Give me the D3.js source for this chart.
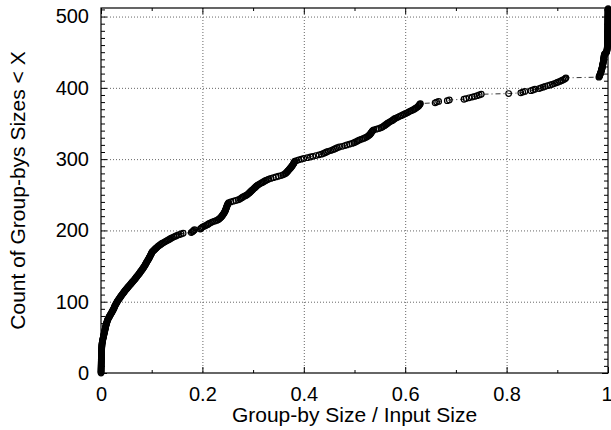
<!DOCTYPE html>
<html>
<head>
<meta charset="utf-8">
<title>groupby sizes</title>
<script src="https://cdn.jsdelivr.net/npm/d3@7"></script>
<style>
  body { margin: 0; background: #fff; }
  text { font-family: "Liberation Sans", Arial, Helvetica, sans-serif; }
</style>
</head>
<body>
<script>
// sorted group-by sizes as a fraction of input size (one entry per group-by)
var sizes = [
  0, 0, 0.0001, 0.0001, 0.0001, 0.0002, 0.0002, 0.0002, 0.0003, 0.0003,
  0.0003, 0.0004, 0.0004, 0.0004, 0.0005, 0.0005, 0.0005, 0.0006, 0.0006, 0.0006,
  0.0007, 0.0007, 0.0008, 0.0008, 0.0008, 0.0009, 0.0009, 0.0010, 0.0010, 0.0011,
  0.0011, 0.0012, 0.0012, 0.0013, 0.0014, 0.0014, 0.0015, 0.0016, 0.0017, 0.0018,
  0.0019, 0.0021, 0.0023, 0.0025, 0.0027, 0.0030, 0.0033, 0.0036, 0.0039, 0.0042,
  0.0045, 0.0048, 0.0051, 0.0055, 0.0058, 0.0061, 0.0064, 0.0068, 0.0071, 0.0074,
  0.0077, 0.0080, 0.0083, 0.0086, 0.0089, 0.0092, 0.0095, 0.0099, 0.0103, 0.0107,
  0.0111, 0.0115, 0.0119, 0.0124, 0.0129, 0.0135, 0.0141, 0.0148, 0.0156, 0.0164,
  0.0172, 0.0180, 0.0188, 0.0196, 0.0204, 0.0212, 0.0220, 0.0228, 0.0236, 0.0243,
  0.0250, 0.0256, 0.0262, 0.0268, 0.0274, 0.0281, 0.0288, 0.0296, 0.0304, 0.0312,
  0.0320, 0.0329, 0.0338, 0.0347, 0.0357, 0.0367, 0.0377, 0.0387, 0.0397, 0.0407,
  0.0417, 0.0427, 0.0438, 0.0449, 0.0460, 0.0470, 0.0480, 0.0492, 0.0504, 0.0516,
  0.0528, 0.0540, 0.0552, 0.0564, 0.0576, 0.0588, 0.0600, 0.0612, 0.0624, 0.0637,
  0.0650, 0.0661, 0.0672, 0.0683, 0.0694, 0.0705, 0.0716, 0.0727, 0.0738, 0.0749,
  0.0760, 0.0770, 0.0780, 0.0790, 0.0800, 0.0810, 0.0820, 0.0830, 0.0840, 0.0850,
  0.0858, 0.0866, 0.0874, 0.0882, 0.0890, 0.0898, 0.0906, 0.0914, 0.0922, 0.0930,
  0.0940, 0.0948, 0.0955, 0.0962, 0.0969, 0.0976, 0.0983, 0.0990, 0.0997, 0.1004,
  0.1012, 0.1025, 0.1040, 0.1055, 0.1070, 0.1085, 0.1100, 0.1115, 0.1130, 0.1150,
  0.1170, 0.1190, 0.1210, 0.1235, 0.1260, 0.1285, 0.1310, 0.1335, 0.1360, 0.1385,
  0.1410, 0.1440, 0.1470, 0.1500, 0.1540, 0.1580, 0.1620, 0.1780, 0.1800, 0.1815,
  0.1830, 0.1845, 0.1960, 0.1975, 0.1990, 0.2010, 0.2040, 0.2070, 0.2100, 0.2120,
  0.2140, 0.2170, 0.2200, 0.2240, 0.2280, 0.2310, 0.2330, 0.2345, 0.2360, 0.2372,
  0.2384, 0.2395, 0.2405, 0.2415, 0.2424, 0.2432, 0.2440, 0.2447, 0.2453, 0.2459,
  0.2464, 0.2469, 0.2474, 0.2479, 0.2484, 0.2489, 0.2495, 0.2502, 0.2510, 0.2520,
  0.2560, 0.2610, 0.2660, 0.2710, 0.2740, 0.2760, 0.2780, 0.2800, 0.2830, 0.2860,
  0.2880, 0.2900, 0.2915, 0.2930, 0.2945, 0.2960, 0.2975, 0.2990, 0.3005, 0.3020,
  0.3035, 0.3050, 0.3065, 0.3080, 0.3100, 0.3125, 0.3150, 0.3175, 0.3200, 0.3225,
  0.3250, 0.3280, 0.3310, 0.3350, 0.3400, 0.3450, 0.3500, 0.3550, 0.3590, 0.3620,
  0.3640, 0.3655, 0.3670, 0.3682, 0.3694, 0.3706, 0.3718, 0.3730, 0.3742, 0.3755,
  0.3765, 0.3775, 0.3785, 0.3793, 0.3800, 0.3808, 0.3816, 0.3825, 0.3860, 0.3900,
  0.3950, 0.4000, 0.4070, 0.4130, 0.4180, 0.4240, 0.4300, 0.4350, 0.4390, 0.4420,
  0.4450, 0.4480, 0.4530, 0.4570, 0.4600, 0.4630, 0.4660, 0.4700, 0.4760, 0.4810,
  0.4850, 0.4900, 0.4950, 0.4990, 0.5020, 0.5050, 0.5070, 0.5100, 0.5140, 0.5180,
  0.5210, 0.5240, 0.5260, 0.5280, 0.5295, 0.5310, 0.5320, 0.5330, 0.5340, 0.5350,
  0.5360, 0.5380, 0.5430, 0.5480, 0.5520, 0.5550, 0.5570, 0.5590, 0.5610, 0.5630,
  0.5650, 0.5665, 0.5690, 0.5715, 0.5740, 0.5760, 0.5780, 0.5800, 0.5830, 0.5860,
  0.5890, 0.5920, 0.5950, 0.5980, 0.6010, 0.6040, 0.6065, 0.6090, 0.6120, 0.6150,
  0.6180, 0.6200, 0.6220, 0.6240, 0.6255, 0.6270, 0.6280, 0.6290, 0.6300, 0.6590,
  0.6620, 0.6660, 0.6830, 0.6870, 0.7160, 0.7200, 0.7260, 0.7320, 0.7370, 0.7420,
  0.7460, 0.7500, 0.8040, 0.8280, 0.8320, 0.8360, 0.8480, 0.8520, 0.8560, 0.8640,
  0.8680, 0.8720, 0.8760, 0.8810, 0.8860, 0.8900, 0.8940, 0.8980, 0.9010, 0.9050,
  0.9080, 0.9110, 0.9140, 0.9160, 0.9170, 0.9820, 0.9830, 0.9835, 0.9840, 0.9845,
  0.9850, 0.9855, 0.9860, 0.9864, 0.9868, 0.9872, 0.9876, 0.9880, 0.9883, 0.9886,
  0.9889, 0.9892, 0.9895, 0.9898, 0.9900, 0.9903, 0.9906, 0.9908, 0.9910, 0.9912,
  0.9914, 0.9916, 0.9918, 0.9920, 0.9922, 0.9924, 0.9926, 0.9930, 0.9940, 0.9960,
  0.9970, 0.9975, 0.9978, 0.9980, 0.9982, 0.9984, 0.9985, 0.9986, 0.9987, 0.9988,
  0.9988, 0.9989, 0.9989, 0.9990, 0.9990, 0.9990, 0.9991, 0.9991, 0.9991, 0.9992,
  0.9992, 0.9992, 0.9993, 0.9993, 0.9993, 0.9993, 0.9994, 0.9994, 0.9994, 0.9994,
  0.9995, 0.9995, 0.9995, 0.9995, 0.9996, 0.9996, 0.9996, 0.9996, 0.9997, 0.9997,
  0.9997, 0.9997, 0.9997, 0.9998, 0.9998, 0.9998, 0.9998, 0.9998, 0.9999, 0.9999,
  0.9999, 0.9999, 0.9999, 1.0000, 1.0000, 1.0000, 1.0000, 1.0000, 1.0000, 1.0000,
  1.0000, 1.0000
];

var xTicks = [0, 0.2, 0.4, 0.6, 0.8, 1];
var xTickLabels = ["0", "0.2", "0.4", "0.6", "0.8", "1"];
var yTicks = [0, 100, 200, 300, 400, 500];
var yMax = 512;

var W = 611, H = 430;
var margin = {top: 8, right: 3, bottom: 57, left: 101},
    width = W - margin.left - margin.right,
    height = H - margin.top - margin.bottom;

var x = d3.scaleLinear().domain([0, 1]).range([0, width]);
var y = d3.scaleLinear().domain([0, yMax]).range([height, 0]);

var svg = d3.select("body").append("svg")
    .attr("width", W)
    .attr("height", H);
var g = svg.append("g")
    .attr("transform", "translate(" + margin.left + "," + margin.top + ")");

// grid
var gridStyle = function(sel) {
  sel.select(".domain").remove();
  sel.selectAll("line").attr("stroke", "#666").attr("stroke-width", 1)
     .attr("stroke-dasharray", "1,2");
};
g.append("g")
  .call(d3.axisBottom(x).tickValues(xTicks.slice(1, -1)).tickSize(height).tickFormat(""))
  .call(gridStyle);
g.append("g")
  .call(d3.axisLeft(y).tickValues(yTicks.slice(1)).tickSize(-width).tickFormat(""))
  .call(gridStyle);

// minor ticks (inside, all four sides)
var xMinor = d3.range(0.1, 1, 0.2);
var yMinor = d3.range(10, yMax, 10).filter(function(v) { return v % 100 !== 0; });
var tickStyle = function(sel) {
  sel.select(".domain").remove();
  sel.selectAll("line").attr("stroke", "#000").attr("stroke-width", 1);
  sel.selectAll("text").remove();
};
g.append("g").attr("transform", "translate(0," + height + ")")
  .call(d3.axisBottom(x).tickValues(xMinor).tickSize(-3)).call(tickStyle);
g.append("g")
  .call(d3.axisTop(x).tickValues(xMinor).tickSize(-3)).call(tickStyle);
g.append("g")
  .call(d3.axisLeft(y).tickValues(yMinor).tickSize(-4)).call(tickStyle);
g.append("g").attr("transform", "translate(" + width + ",0)")
  .call(d3.axisRight(y).tickValues(yMinor).tickSize(-4)).call(tickStyle);
g.append("g")
  .call(d3.axisTop(x).tickValues(xTicks).tickSize(-6)).call(tickStyle);
g.append("g").attr("transform", "translate(" + width + ",0)")
  .call(d3.axisRight(y).tickValues(yTicks).tickSize(-6)).call(tickStyle);

// major axes with labels
var xAxis = g.append("g").attr("transform", "translate(0," + height + ")")
  .call(d3.axisBottom(x).tickValues(xTicks).tickSize(-6).tickPadding(14)
        .tickFormat(function(d, i) { return xTickLabels[i]; }));
var yAxis = g.append("g")
  .call(d3.axisLeft(y).tickValues(yTicks).tickSize(-6).tickPadding(12));
[xAxis, yAxis].forEach(function(a) {
  a.select(".domain").remove();
  a.selectAll("line").attr("stroke", "#000");
  a.selectAll("text").attr("font-size", 20).attr("fill", "#000")
    .style("font-family", "'Liberation Sans', Arial, sans-serif");
});
// keep the last x label inside the window
xAxis.selectAll("text").filter(function(d) { return d === 1; })
  .attr("text-anchor", "end").attr("x", 4);

// frame
g.append("rect")
  .attr("width", width).attr("height", height)
  .attr("fill", "none").attr("stroke", "#000").attr("stroke-width", 1.2);

// dash-dot connecting line
var line = d3.line()
  .x(function(d) { return x(d); })
  .y(function(d, i) { return y(i); });
g.append("path")
  .datum(sizes)
  .attr("d", line)
  .attr("fill", "none")
  .attr("stroke", "#000")
  .attr("stroke-width", 0.8)
  .attr("stroke-dasharray", "5,3,1,3");

// open circle points
g.selectAll(".pt")
  .data(sizes)
  .enter().append("circle")
  .attr("class", "pt")
  .attr("cx", function(d) { return x(d); })
  .attr("cy", function(d, i) { return y(i); })
  .attr("r", 2.8)
  .attr("fill", "none")
  .attr("stroke", "#000")
  .attr("stroke-width", 1.2);

// axis titles
svg.append("text")
  .attr("x", margin.left + width / 2)
  .attr("y", 422)
  .attr("text-anchor", "middle")
  .attr("font-size", 21)
  .text("Group-by Size / Input Size");
svg.append("text")
  .attr("transform", "translate(25," + (margin.top + height / 2) + ") rotate(-90)")
  .attr("text-anchor", "middle")
  .attr("font-size", 21)
  .text("Count of Group-bys Sizes < X");
</script>
</body>
</html>
